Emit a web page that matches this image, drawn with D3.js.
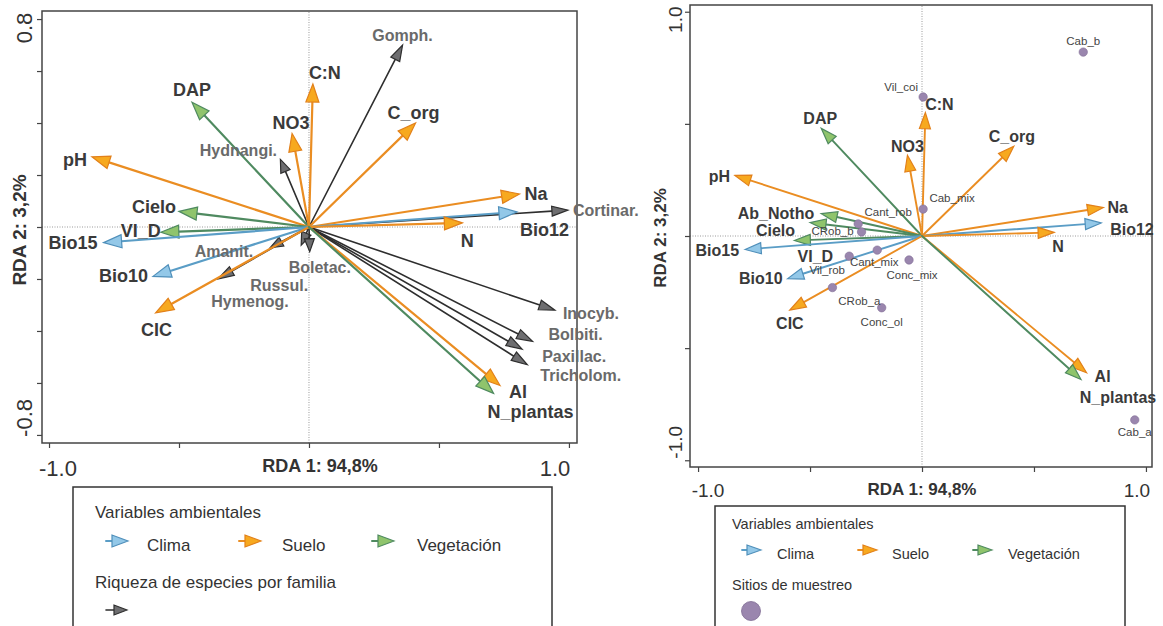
<!DOCTYPE html>
<html>
<head>
<meta charset="utf-8">
<script src="https://cdn.jsdelivr.net/npm/d3@7"></script>
<style>
  html, body { margin: 0; padding: 0; background: #fff; }
  svg { display: block; font-family: "Liberation Sans", Arial, Helvetica, sans-serif; }
</style>
</head>
<body>
<svg id="chart" width="1163" height="626"></svg>
<script>
// ---- RDA scores ----------------------------------------------------------
// Environmental variables (biplot scores on RDA 1 / RDA 2)
const envNames  = ["DAP", "C:N", "NO3", "C_org", "Na", "Bio12", "N", "pH",
                   "Ab_Notho", "Cielo", "VI_D", "Bio15", "Bio10", "CIC", "Al", "N_plantas"];
const envGroups = ["Vegetación", "Suelo", "Suelo", "Suelo", "Suelo", "Clima", "Suelo", "Suelo",
                   "Vegetación", "Vegetación", "Vegetación", "Clima", "Clima", "Suelo", "Suelo", "Vegetación"];
const envRDA1   = [-0.45, 0.015, -0.065, 0.41, 0.81, 0.80, 0.59, -0.835,
                   -0.45, -0.50, -0.57, -0.79, -0.60, -0.59, 0.735, 0.71];
const envRDA2   = [0.48, 0.55, 0.36, 0.40, 0.127, 0.058, 0.016, 0.27,
                   0.10, 0.06, -0.02, -0.06, -0.19, -0.33, -0.61, -0.64];

// Species richness per fungal family
const familyNames = ["Gomph.", "Hydnangi.", "Amanit.", "Hymenog.", "Russul.", "Boletac.",
                     "Cortinar.", "Inocyb.", "Bolbiti.", "Paxillac.", "Tricholom."];
const familyRDA1  = [0.36, -0.11, -0.15, -0.35, -0.03, 0.003, 0.996, 0.946, 0.86, 0.82, 0.84];
const familyRDA2  = [0.70, 0.26, -0.08, -0.20, -0.07, -0.095, 0.065, -0.32, -0.44, -0.47, -0.53];

// Sampling sites
const siteNames = ["Cab_b", "Vil_coi", "Cab_mix", "Cant_rob", "CRob_b", "Cant_mix",
                   "Vil_rob", "Conc_mix", "CRob_a", "Conc_ol", "Cab_a"];
const siteRDA1  = [0.72, 0.005, 0.005, -0.285, -0.27, -0.20, -0.325, -0.058, -0.40, -0.18, 0.95];
const siteRDA2  = [0.82, 0.62, 0.12, 0.054, 0.018, -0.063, -0.09, -0.107, -0.23, -0.32, -0.82];

// Axis text
const axisTitleX = "RDA 1:  94,8%";
const axisTitleXRight = "RDA 1: 94,8%";
const axisTitleY = "RDA 2: 3,2%";
const leftTicksX  = [-1.0, -0.5, 0, 0.5, 1.0];
const leftTicksY  = [-0.8, -0.6, -0.4, -0.2, 0, 0.2, 0.4, 0.6, 0.8];
const rightTicksX = [-1.0, -0.5, 0, 0.5, 1.0];
const rightTicksY = [-1.0, -0.5, 0, 0.5, 1.0];
const leftTickLabelsX  = ["-1.0", "1.0"];
const leftTickLabelsY  = ["-0.8", "0.8"];
const rightTickLabelsX = ["-1.0", "1.0"];
const rightTickLabelsY = ["-1.0", "1.0"];

// Legend text
const legendTitleEnv = "Variables ambientales";
const legendGroups = ["Clima", "Suelo", "Vegetación"];
const legendTitleFamily = "Riqueza de especies por familia";
const legendTitleSites = "Sitios de muestreo";

// ---- styles --------------------------------------------------------------
const groupStyle = {
  "Clima":      { line: "#5a9dc6", fill: "#93c8e8", stroke: "#4f8fba" },
  "Suelo":      { line: "#ea8d22", fill: "#f7a91f", stroke: "#e2801a" },
  "Vegetación": { line: "#4f8a60", fill: "#8fc46c", stroke: "#4f8a60" },
  "Familia":    { line: "#2e2e2e", fill: "#6e6e70", stroke: "#2e2e2e" }
};
const envText = "#3a3a3a";
const famText = "#6a6a6a";
const siteFill = "#9a86ae";

// Label placement relative to arrow tips / points: [dx, dy, anchor]
const leftEnvLabelPos = {
  "DAP": [0, -12, "middle"], "C:N": [12, -11, "middle"], "NO3": [-1, -10, "middle"],
  "C_org": [-2, -10, "middle"], "Na": [5, 0, "start"], "Bio12": [3, 18, "start"],
  "N": [5, 18, "middle"], "pH": [-5, 3, "end"], "Cielo": [-3, -4, "end"],
  "VI_D": [0, -1, "end"], "Bio15": [-6, 0, "end"], "Bio10": [-5, 0, "end"],
  "CIC": [1, 17, "middle"], "Al": [18, 6, "middle"], "N_plantas": [37, 19, "middle"]
};
const leftFamLabelPos = {
  "Gomph.": [0, -10, "middle"], "Hydnangi.": [-42, -9, "middle"], "Amanit.": [-46, 4, "middle"],
  "Hymenog.": [32, 23, "middle"], "Russul.": [-22, 40, "middle"], "Boletac.": [10, 16, "middle"],
  "Cortinar.": [5, 0, "start"], "Inocyb.": [8, 3, "start"], "Bolbiti.": [16, -7, "start"],
  "Paxillac.": [20, 7, "start"], "Tricholom.": [13, 11, "start"]
};
const rightEnvLabelPos = {
  "DAP": [-1, -10, "middle"], "C:N": [14, -8, "middle"], "NO3": [0, -9, "middle"],
  "C_org": [-2, -10, "middle"], "Na": [4, 0, "start"], "Bio12": [9, 7, "start"],
  "N": [4, 14, "middle"], "pH": [-5, 1, "end"], "Ab_Notho": [-7, 0, "end"],
  "Cielo": [-15, 8, "end"], "VI_D": [21, 16, "middle"], "Bio15": [-6, 1, "end"],
  "Bio10": [-5, 0, "end"], "CIC": [0, 13, "middle"], "Al": [16, 4, "middle"],
  "N_plantas": [37, 18, "middle"]
};
const siteLabelPos = {
  "Cab_b": [0, -11, "middle"], "Vil_coi": [-22, -10, "middle"], "Cab_mix": [29, -11, "middle"],
  "Cant_rob": [30, -12, "middle"], "CRob_b": [-29, -1, "middle"], "Cant_mix": [-3, 12, "middle"],
  "Vil_rob": [-22, 14, "middle"], "Conc_mix": [3, 15, "middle"], "CRob_a": [27, 13, "middle"],
  "Conc_ol": [0, 14, "middle"], "Cab_a": [0, 12, "middle"]
};

const svg = d3.select("#chart");

// ---- helpers ---------------------------------------------------------------
function arrow(g, x0, y0, x1, y1, st, headLen, headHalf, lineW) {
  const a = Math.atan2(y1 - y0, x1 - x0);
  const bx = x1 - headLen * Math.cos(a), by = y1 - headLen * Math.sin(a);
  const px = -Math.sin(a) * headHalf, py = Math.cos(a) * headHalf;
  g.append("line")
    .attr("x1", x0).attr("y1", y0).attr("x2", bx).attr("y2", by)
    .attr("stroke", st.line).attr("stroke-width", lineW).attr("stroke-linecap", "round");
  g.append("path")
    .attr("d", `M${x1},${y1}L${bx + px},${by + py}L${bx - px},${by - py}Z`)
    .attr("fill", st.fill).attr("stroke", st.stroke).attr("stroke-width", 1.2)
    .attr("stroke-linejoin", "miter");
}

function label(g, x, y, txt, pos, size, color, weight) {
  g.append("text")
    .attr("x", x + pos[0]).attr("y", y + pos[1])
    .attr("text-anchor", pos[2]).attr("dominant-baseline", "central")
    .attr("font-size", size).attr("font-weight", weight).attr("fill", color)
    .text(txt);
}

function panelFrame(g, x, y, ticksX, ticksY) {
  const [x0, x1] = x.range(), [y0, y1] = y.range();
  // zero reference lines
  g.append("line").attr("x1", x(0)).attr("x2", x(0)).attr("y1", y0).attr("y2", y1)
    .attr("stroke", "#9a9a9a").attr("stroke-width", 1).attr("stroke-dasharray", "1,1.5");
  g.append("line").attr("x1", x0).attr("x2", x1).attr("y1", y(0)).attr("y2", y(0))
    .attr("stroke", "#9a9a9a").attr("stroke-width", 1).attr("stroke-dasharray", "1,1.5");
  g.append("rect").attr("x", x0).attr("y", y1).attr("width", x1 - x0).attr("height", y0 - y1)
    .attr("fill", "none").attr("stroke", "#444").attr("stroke-width", 1.5);
  const ax = g.append("g").attr("transform", `translate(0,${y0})`)
    .call(d3.axisBottom(x).tickValues(ticksX).tickSize(5).tickFormat(""));
  const ay = g.append("g").attr("transform", `translate(${x0},0)`)
    .call(d3.axisLeft(y).tickValues(ticksY).tickSize(5).tickFormat(""));
  [ax, ay].forEach(a => {
    a.select(".domain").remove();
    a.selectAll("line").attr("stroke", "#444").attr("stroke-width", 1.2);
  });
}

function tickText(g, x, y, txt, size, rotate) {
  const t = g.append("text")
    .attr("text-anchor", "middle").attr("dominant-baseline", "central")
    .attr("font-size", size).attr("fill", "#333").text(txt);
  if (rotate) t.attr("transform", `translate(${x},${y}) rotate(-90)`);
  else t.attr("x", x).attr("y", y);
}

function axisTitle(g, x, y, txt, size, rotate) {
  const t = g.append("text")
    .attr("text-anchor", "middle").attr("dominant-baseline", "central")
    .attr("font-size", size).attr("font-weight", "bold").attr("fill", "#333").text(txt);
  if (rotate) t.attr("transform", `translate(${x},${y}) rotate(-90)`);
  else t.attr("x", x).attr("y", y);
}

// ---- left panel: environment + fungal families ---------------------------
{
  const g = svg.append("g");
  const x = d3.scaleLinear().domain([-1.027, 1.031]).range([42, 577]);
  const y = d3.scaleLinear().domain([-0.831, 0.831]).range([443, 11]);
  panelFrame(g, x, y, leftTicksX, leftTicksY);

  const ox = x(0), oy = y(0);
  const arrows = g.append("g");
  familyNames.forEach((n, i) => {
    const hl = Math.abs(familyRDA1[i]) < 0.2 && Math.abs(familyRDA2[i]) < 0.3 ? 13 : 16;
    arrow(arrows, ox, oy, x(familyRDA1[i]), y(familyRDA2[i]), groupStyle["Familia"], hl, 5, 1.6);
  });
  envNames.forEach((n, i) => {
    if (n === "Ab_Notho") return;
    arrow(arrows, ox, oy, x(envRDA1[i]), y(envRDA2[i]), groupStyle[envGroups[i]], 18, 6.5, 2.2);
  });

  familyNames.forEach((n, i) =>
    label(g, x(familyRDA1[i]), y(familyRDA2[i]), n, leftFamLabelPos[n], 16, famText, "bold"));
  envNames.forEach((n, i) => {
    if (n === "Ab_Notho") return;
    label(g, x(envRDA1[i]), y(envRDA2[i]), n, leftEnvLabelPos[n], 18, envText, "bold");
  });

  tickText(g, x(-1) + 9, 468, leftTickLabelsX[0], 22, false);
  tickText(g, x(1) - 14, 468, leftTickLabelsX[1], 22, false);
  tickText(g, 24, y(-0.8) - 17, leftTickLabelsY[0], 22, true);
  tickText(g, 24, y(0.8) + 9, leftTickLabelsY[1], 22, true);
  axisTitle(g, 320, 466, axisTitleX, 18, false);
  axisTitle(g, 19, 230, axisTitleY, 19, true);

  // legend
  const lg = g.append("g");
  lg.append("rect").attr("x", 73).attr("y", 487).attr("width", 479).attr("height", 160)
    .attr("fill", "#fff").attr("stroke", "#333").attr("stroke-width", 1.5);
  lg.append("text").attr("x", 95).attr("y", 512).attr("dominant-baseline", "central")
    .attr("font-size", 17).attr("fill", "#333").text(legendTitleEnv);
  const iconX = [106, 239, 372], textX = [147, 282, 417];
  legendGroups.forEach((k, i) => {
    arrow(lg, iconX[i], 541, iconX[i] + 22, 541, groupStyle[k], 16, 6, 2);
    lg.append("text").attr("x", textX[i]).attr("y", 545).attr("dominant-baseline", "central")
      .attr("font-size", 17).attr("fill", "#333").text(k);
  });
  lg.append("text").attr("x", 95).attr("y", 582).attr("dominant-baseline", "central")
    .attr("font-size", 17).attr("fill", "#333").text(legendTitleFamily);
  arrow(lg, 106, 610, 127, 610, groupStyle["Familia"], 13, 5, 1.6);
}

// ---- right panel: environment + sampling sites ---------------------------
{
  const g = svg.append("g");
  const x = d3.scaleLinear().domain([-1.036, 1.027]).range([690, 1152]);
  const y = d3.scaleLinear().domain([-1.03, 1.03]).range([467, 5]);
  panelFrame(g, x, y, rightTicksX, rightTicksY);

  const ox = x(0), oy = y(0);
  const arrows = g.append("g");
  envNames.forEach((n, i) =>
    arrow(arrows, ox, oy, x(envRDA1[i]), y(envRDA2[i]), groupStyle[envGroups[i]], 16, 5.5, 1.9));

  g.append("g").selectAll("circle").data(siteNames).join("circle")
    .attr("cx", (d, i) => x(siteRDA1[i])).attr("cy", (d, i) => y(siteRDA2[i]))
    .attr("r", 4.2).attr("fill", siteFill).attr("stroke", "#7f6c93").attr("stroke-width", 0.6);

  siteNames.forEach((n, i) =>
    label(g, x(siteRDA1[i]), y(siteRDA2[i]), n, siteLabelPos[n], 11.5, "#444", "normal"));
  envNames.forEach((n, i) =>
    label(g, x(envRDA1[i]), y(envRDA2[i]), n, rightEnvLabelPos[n], 16, envText, "bold"));

  tickText(g, x(-1) + 10, 490, rightTickLabelsX[0], 19, false);
  tickText(g, x(1) - 9, 490, rightTickLabelsX[1], 19, false);
  tickText(g, 675, y(-1) - 18, rightTickLabelsY[0], 19, true);
  tickText(g, 675, y(1) + 8, rightTickLabelsY[1], 19, true);
  axisTitle(g, 922, 489, axisTitleXRight, 17, false);
  axisTitle(g, 660, 238, axisTitleY, 17, true);

  // legend
  const lg = g.append("g");
  lg.append("rect").attr("x", 715).attr("y", 506).attr("width", 410).attr("height", 140)
    .attr("fill", "#fff").attr("stroke", "#333").attr("stroke-width", 1.5);
  lg.append("text").attr("x", 732).attr("y", 524).attr("dominant-baseline", "central")
    .attr("font-size", 14.5).attr("fill", "#333").text(legendTitleEnv);
  const iconX = [742, 858, 973], textX = [777, 892, 1008];
  legendGroups.forEach((k, i) => {
    arrow(lg, iconX[i], 550, iconX[i] + 19, 550, groupStyle[k], 14, 5, 1.8);
    lg.append("text").attr("x", textX[i]).attr("y", 554).attr("dominant-baseline", "central")
      .attr("font-size", 14.5).attr("fill", "#333").text(k);
  });
  lg.append("text").attr("x", 732).attr("y", 585).attr("dominant-baseline", "central")
    .attr("font-size", 14.5).attr("fill", "#333").text(legendTitleSites);
  lg.append("circle").attr("cx", 751).attr("cy", 611).attr("r", 9.5)
    .attr("fill", siteFill).attr("stroke", "#7f6c93").attr("stroke-width", 0.8);
}
</script>
</body>
</html>
